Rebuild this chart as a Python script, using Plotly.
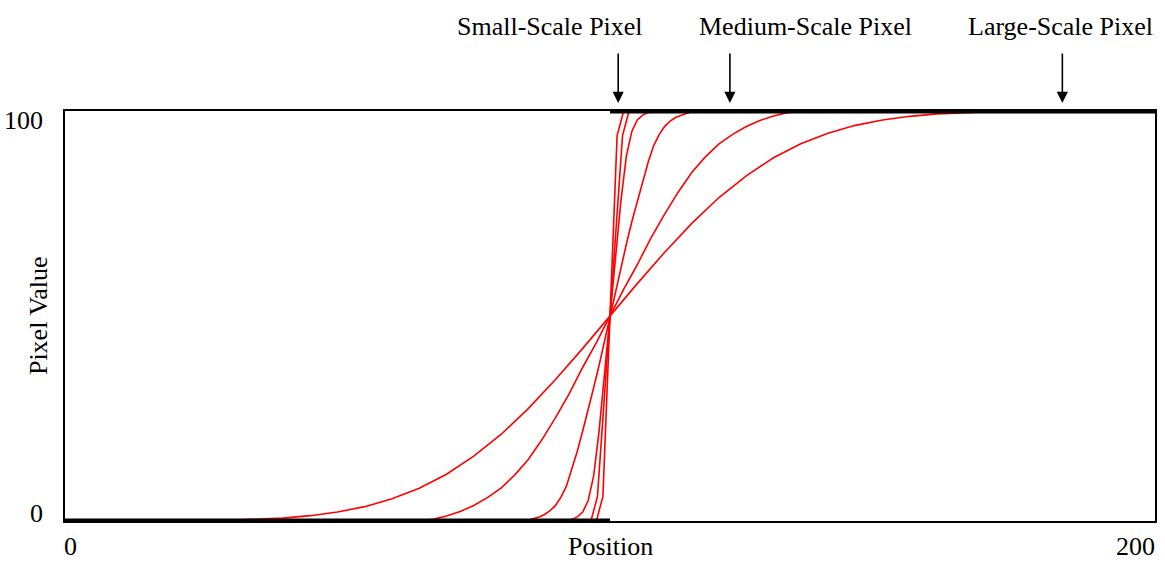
import plotly.graph_objects as go

# ---- data ----
step_x = [0, 100, None, 100, 200]
step_y = [0, 0, None, 100, 100]

a_pos = [30, 35, 40, 45, 50, 55, 60, 65, 70, 75, 80, 85, 90, 95, 100,
         105, 110, 115, 120, 125, 130, 135, 140, 145, 150, 155, 160, 165, 170]
a_val = [0.2, 0.4, 0.7, 1.3, 2.2, 3.5, 5.4, 8.0, 11.4, 15.8, 21.1, 27.4, 34.5, 42.1, 50,
         57.9, 65.5, 72.6, 78.9, 84.2, 88.6, 92.0, 94.6, 96.5, 97.8, 98.7, 99.3, 99.6, 99.8]

b_pos = [60, 65, 67.5, 70, 72.5, 75, 77.5, 80, 82.5, 85, 87.5, 90, 92.5, 95, 97.5, 100,
         102.5, 105, 107.5, 110, 112.5, 115, 117.5, 120, 122.5, 125, 127.5, 130, 132.5, 135, 140]
b_val = [0, 0.1, 0.4, 1.2, 2.3, 3.8, 5.7, 8, 11.2, 15, 19.8, 25.2, 31, 37.5, 43.5, 50,
         56.5, 62.5, 69, 74.8, 80.2, 85, 88.8, 92, 94.3, 96.2, 97.7, 98.8, 99.6, 99.9, 100]

c_pos = [84, 85, 86, 87, 88, 89, 90, 91, 92, 93, 94, 95, 96, 97, 98, 99, 100,
         101, 102, 103, 104, 105, 106, 107, 108, 109, 110, 111, 112, 113, 114, 115, 116]
c_val = [0, 0.2, 0.6, 1, 1.6, 2.5, 3.8, 5.8, 8.5, 12.5, 17, 22, 27, 32.5, 38, 44, 50,
         56, 62, 67.5, 73, 78, 83, 87.5, 91.5, 94.2, 96.2, 97.5, 98.4, 99, 99.4, 99.8, 100]

d_pos = [92, 93, 94, 95, 96, 97, 98, 99, 100, 101, 102, 103, 104, 105, 106, 107, 108]
d_val = [0, 0.4, 1, 2.2, 5, 11, 22, 36, 50, 64, 78, 89, 95, 97.8, 99, 99.6, 100]

e_pos = [96.5, 97.7, 100, 102.3, 103.5]
e_val = [0, 6, 50, 94, 100]

f_pos = [97.5, 98.7, 100, 101.3, 102.5]
f_val = [0, 6, 50, 94, 100]

curves = [(a_pos, a_val), (b_pos, b_val), (c_pos, c_val),
          (d_pos, d_val), (e_pos, e_val), (f_pos, f_val)]

label_texts = ["Small-Scale Pixel", "Medium-Scale Pixel", "Large-Scale Pixel"]
label_x = [89, 135.9, 182.6]
arrow_x = [101.5, 122, 183]

FONT = "Liberation Serif, Times New Roman, serif"

fig = go.Figure()
for px_, pv_ in curves:
    fig.add_trace(go.Scatter(x=px_, y=pv_, mode="lines",
                             line=dict(color="#ff0000", width=1.6),
                             hoverinfo="skip", showlegend=False))
fig.add_trace(go.Scatter(x=step_x, y=step_y, mode="lines",
                         line=dict(color="black", width=5),
                         cliponaxis=False, showlegend=False, hoverinfo="skip"))

ann = []
for t, lx in zip(label_texts, label_x):
    ann.append(dict(text=t, x=lx, y=1.207, xref="x", yref="paper", showarrow=False,
                    xanchor="center", yanchor="middle",
                    font=dict(family=FONT, size=26, color="black")))
for axp in arrow_x:
    ann.append(dict(text="", x=axp, y=1.0195, xref="x", yref="paper", showarrow=True,
                    ax=0, ay=-51, arrowhead=2, arrowsize=1.4, arrowwidth=1.6,
                    arrowcolor="black"))
# axis labels
ann.append(dict(text="Position", x=100, y=-0.061, xref="x", yref="paper", showarrow=False,
                xanchor="center", yanchor="middle", font=dict(family=FONT, size=26, color="black")))
ann.append(dict(text="0", x=0, y=-0.061, xref="x", yref="paper", showarrow=False, xshift=-3,
                xanchor="left", yanchor="middle", font=dict(family=FONT, size=26, color="black")))
ann.append(dict(text="200", x=200, y=-0.061, xref="x", yref="paper", showarrow=False, xshift=2,
                xanchor="right", yanchor="middle", font=dict(family=FONT, size=26, color="black")))
ann.append(dict(text="100", x=-0.0183, y=0.978, xref="paper", yref="paper", showarrow=False,
                xanchor="right", yanchor="middle", font=dict(family=FONT, size=26, color="black")))
ann.append(dict(text="0", x=-0.0183, y=0.0195, xref="paper", yref="paper", showarrow=False,
                xanchor="right", yanchor="middle", font=dict(family=FONT, size=26, color="black")))
ann.append(dict(text="Pixel Value", x=-0.0247, y=0.5, xref="paper", yref="paper", showarrow=False,
                xanchor="center", yanchor="middle", textangle=-90,
                font=dict(family=FONT, size=26, color="black")))

fig.update_layout(
    width=1165, height=563,
    margin=dict(l=65, r=8, t=111, b=42),
    paper_bgcolor="white", plot_bgcolor="white",
    annotations=ann,
    xaxis=dict(range=[0, 200], showgrid=False, zeroline=False, showticklabels=False,
               ticks="", showline=True, mirror=True, linecolor="black", linewidth=1.5),
    yaxis=dict(range=[0, 100], showgrid=False, zeroline=False, showticklabels=False,
               ticks="", showline=True, mirror=True, linecolor="black", linewidth=1.5),
)
fig.write_html("out.html", config={"displayModeBar": False},
               post_script="document.body.style.margin='0';")
